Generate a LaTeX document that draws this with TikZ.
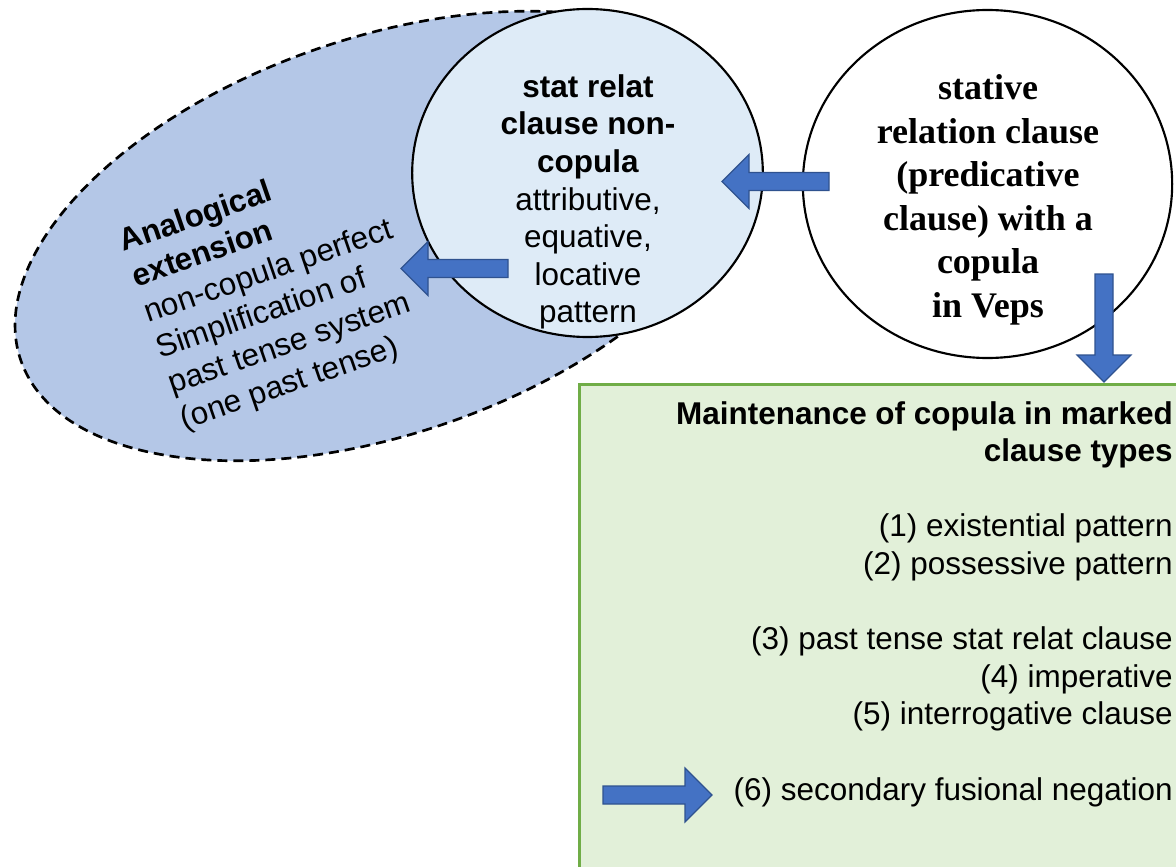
\documentclass[tikz,border=0pt]{standalone}
\usepackage{fontspec}
\newfontfamily\arialf{Liberation Sans}
\newfontfamily\timesf{Liberation Serif}
\usetikzlibrary{shapes.geometric}
\definecolor{arrowblue}{HTML}{4472C4}
\definecolor{arrowline}{HTML}{2F528F}
\definecolor{extfill}{HTML}{B4C7E7}
\definecolor{midfill}{HTML}{DEEBF7}
\definecolor{boxfill}{HTML}{E2F0D9}
\definecolor{boxline}{HTML}{70AD47}

\begin{document}
\begin{tikzpicture}[
  x=0.75pt,y=-0.75pt,
  txt/.style={font=\arialf\fontsize{23.6}{28.2}\selectfont,inner sep=0pt},
  ser/.style={font=\timesf\bfseries\fontsize{27}{32.6}\selectfont,inner sep=0pt,align=center},
  ring/.style={ellipse,draw,line width=1.6pt,inner sep=0pt},
  extn/.style={ellipse,draw,dash pattern=on 7.5pt off 4.5pt,line width=2pt,fill=extfill,
    minimum width=573pt,minimum height=297pt,inner sep=0pt,rotate=19},
  box/.style={rectangle,draw=boxline,line width=2.25pt,fill=boxfill,inner sep=0pt},
  blk/.style={draw=arrowline,fill=arrowblue,line width=0.9pt,line join=miter},
  pics/blockarr/.style={code={
    \draw[blk] (0,-9) -- (#1-27,-9) -- (#1-27,-27) -- (#1,0) -- (#1-27,27) -- (#1-27,9) -- (0,9) -- cycle;
  }}
]
\fill[white] (0,0) rectangle (1176,866);
\useasboundingbox (0,0) rectangle (1176,866);
\clip (0,0) rectangle (1176,866);

% left: dashed ellipse
\node[extn] (ext) at (382,236) {};
\node[txt,align=left,anchor=north west,rotate=19] (exttxt) at (116,230)
  {\textbf{Analogical}\\\textbf{extension}\\non-copula perfect\\Simplification of\\past tense system\\(one past tense)};

% middle circle
\node[ring,fill=midfill,minimum width=263pt,minimum height=246pt] (stat) at (587.5,173) {};
\node[txt,align=center] (stattxt) at (588,202)
  {\textbf{stat relat}\\\textbf{clause non-}\\\textbf{copula}\\attributive,\\equative,\\locative\\pattern};

% right circle
\node[ring,fill=white,minimum width=277pt,minimum height=261pt] (cop) at (987.5,184) {};
\node[ser] (coptxt) at (988,200)
  {stative\\relation clause\\(predicative\\clause) with a\\copula\\in Veps};

\pic (a1) [rotate=180] at (829,181.5) {blockarr=107};
\pic (a2) [rotate=180] at (508,268.5) {blockarr=107};

% green box
\node[box,anchor=north west,minimum width=459pt,minimum height=373pt] (maint) at (578,383) {};
\node[txt,align=right,anchor=north east] (mainttxt) at (1173,401)
  {\textbf{Maintenance of copula in marked}\\\textbf{clause types}\\[28.2pt]
   (1) existential pattern\\(2) possessive pattern\\[28.2pt]
   (3) past tense stat relat clause\\(4) imperative\\(5) interrogative clause\\[28.2pt]
   (6) secondary fusional negation};

\pic (a3) [rotate=-90] at (1104,274) {blockarr=108};
\pic (a4) at (603,795) {blockarr=109};
\end{tikzpicture}
\end{document}
